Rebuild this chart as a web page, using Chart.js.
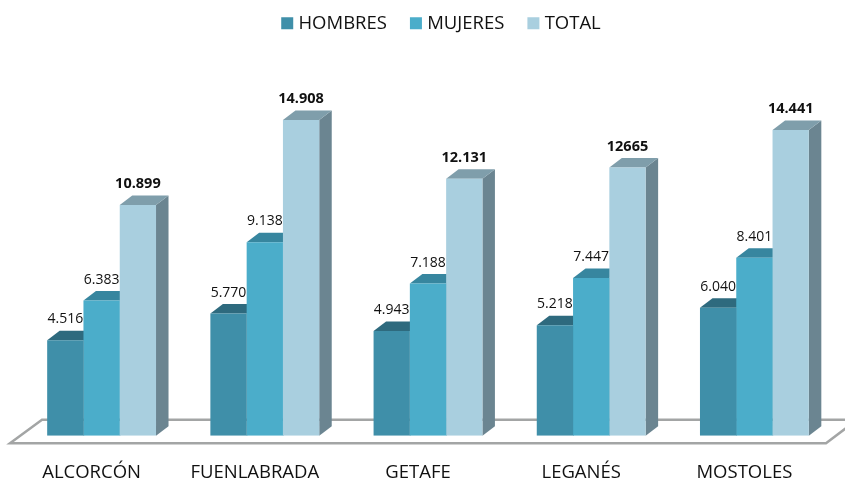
<!DOCTYPE html>
<html><head><meta charset="utf-8">
<style>html,body{margin:0;padding:0;background:#fff}#w{width:845px;height:480px;position:relative}</style>
<script src="https://cdn.jsdelivr.net/npm/chart.js@4"></script>
</head><body><div id="w"><canvas id="c" width="845" height="480"></canvas></div>
<script>
const categories = ["ALCORCÓN","FUENLABRADA","GETAFE","LEGANÉS","MOSTOLES"];
const hombres = [4516,5770,4943,5218,6040];
const mujeres = [6383,9138,7188,7447,8401];
const total = [10899,14908,12131,12665,14441];
const hombresLabels = ["4.516","5.770","4.943","5.218","6.040"];
const mujeresLabels = ["6.383","9.138","7.188","7.447","8.401"];
const totalLabels = ["10.899","14.908","12.131","12665","14.441"];
const FONT = '"Open Sans", sans-serif';
const dx = 12.5, dy = 9.5;
const shades = [
  {top:"#2E6A7E", side:"#2F6F84", labels:hombresLabels, font:"normal 14px "},
  {top:"#37869F", side:"#3A8AA3", labels:mujeresLabels, font:"normal 14px "},
  {top:"#7F9EAB", side:"#6B8591", labels:totalLabels, font:"bold 14.5px "}
];
const poly = (ctx, pts, fill) => {
  ctx.beginPath(); pts.forEach((p,i)=> i?ctx.lineTo(p[0],p[1]):ctx.moveTo(p[0],p[1]));
  ctx.closePath(); ctx.fillStyle = fill; ctx.fill();
};
const threeD = {
  id:"threeD",
  afterLayout(chart){
    const lg = chart.legend;
    lg.left += 15; lg.right += 15;
    lg.top -= 12; lg.bottom -= 12;
  },
  beforeDatasetsDraw(chart){
    const {ctx, chartArea:a} = chart;
    ctx.save();
    ctx.beginPath();
    ctx.moveTo(a.left-10, a.bottom+7.5);
    ctx.lineTo(a.left+22, a.bottom-16);
    ctx.lineTo(a.right+21, a.bottom-16);
    ctx.lineTo(a.right-10, a.bottom+7.5);
    ctx.closePath();
    ctx.fillStyle="#fff"; ctx.fill();
    ctx.strokeStyle="#A3A5A5"; ctx.lineWidth=2.5; ctx.stroke();
    shades.forEach((s,d)=>{
      chart.getDatasetMeta(d).data.forEach(b=>{
        const l=b.x-b.width/2, r=b.x+b.width/2, t=b.y, bt=b.base;
        poly(ctx,[[r,t],[r+dx,t-dy],[r+dx,bt-dy],[r,bt]],s.side);
        poly(ctx,[[l,t],[r,t],[r+dx,t-dy],[l+dx,t-dy]],s.top);
      });
    });
    ctx.restore();
  },
  afterDatasetsDraw(chart){
    const {ctx} = chart;
    ctx.save();
    ctx.textAlign="center"; ctx.textBaseline="middle"; ctx.fillStyle="#111";
    shades.forEach((s,d)=>{
      ctx.font = s.font+FONT;
      chart.getDatasetMeta(d).data.forEach((b,i)=>{
        ctx.fillText(s.labels[i], b.x, b.y-21);
      });
    });
    ctx.restore();
  }
};
new Chart(document.getElementById("c"),{
  type:"bar",
  data:{labels:categories,datasets:[
    {label:"HOMBRES",data:hombres,backgroundColor:"#3F8FA9"},
    {label:"MUJERES",data:mujeres,backgroundColor:"#4BADCA"},
    {label:"TOTAL",data:total,backgroundColor:"#A9CFDF"}
  ]},
  options:{
    responsive:false,animation:false,
    layout:{padding:{left:20,right:9,top:-1,bottom:-22}},
    categoryPercentage:0.667,barPercentage:1,
    plugins:{
      tooltip:{enabled:false},
      legend:{position:"top",labels:{usePointStyle:true,pointStyle:"rect",boxWidth:4,boxHeight:12,padding:27,color:"#111",font:{family:FONT,size:18.5}}}
    },
    scales:{
      x:{grid:{display:false},border:{display:false},ticks:{color:"#111",padding:18,labelOffset:-10,font:{family:FONT,size:18.5},maxRotation:0}},
      y:{display:false,min:0,max:18000}
    }
  },
  plugins:[threeD]
});
</script></body></html>
